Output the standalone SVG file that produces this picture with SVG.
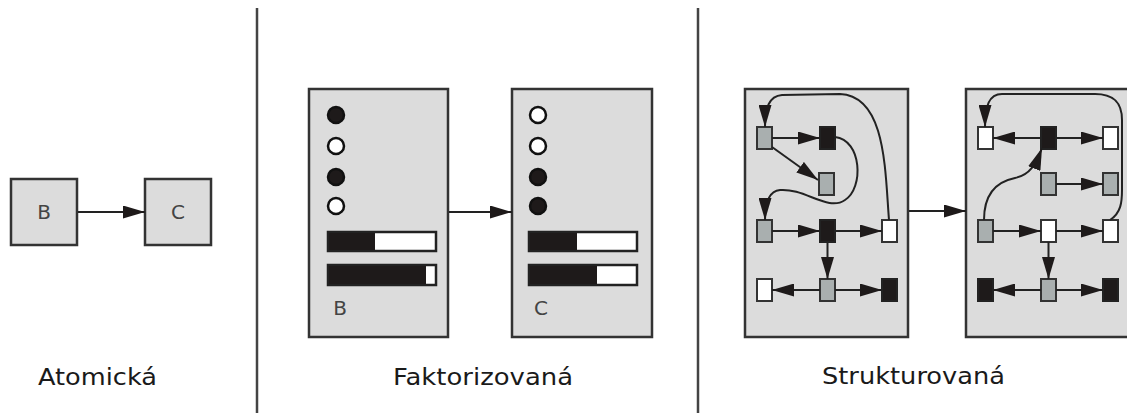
<svg xmlns="http://www.w3.org/2000/svg" width="1127" height="413" viewBox="0 0 1127 413">
<style>
.box{fill:#dcdcdc;stroke:#333;stroke-width:2.5}
.lbl{font-family:"DejaVu Sans",sans-serif;font-size:20px;fill:#444;text-anchor:middle}
.cap{font-family:"DejaVu Sans",sans-serif;font-size:23px;fill:#1a1a1a}
.div{stroke:#444;stroke-width:2.5}
.ln{stroke:#222;stroke-width:2;fill:none;marker-end:url(#ah)}
.g{fill:#a9afaf;stroke:#333;stroke-width:2}
.w{fill:#fff;stroke:#333;stroke-width:2}
.k{fill:#1e1a1a;stroke:#222;stroke-width:2}
.dotk{fill:#1e1a1a;stroke:#111;stroke-width:2.5}
.dotw{fill:#fff;stroke:#111;stroke-width:2.5}
.bar{fill:#fff;stroke:#222;stroke-width:2.5}
.barf{fill:#1e1a1a}
</style>
<defs>
<marker id="ah" markerUnits="userSpaceOnUse" markerWidth="22" markerHeight="13" refX="22" refY="6.5" orient="auto">
<path d="M0,0 L22,6.5 L0,13 z" fill="#1e1a1a"/>
</marker>
</defs>
<rect width="1127" height="413" fill="#fff"/>
<line class="div" x1="257" y1="8" x2="257" y2="413"/>
<line class="div" x1="698" y1="8" x2="698" y2="413"/>

<g id="atomic-B"><rect class="box" x="11" y="179" width="66" height="66"/><text class="lbl" x="44" y="219">B</text></g>
<g id="atomic-C"><rect class="box" x="145" y="179" width="66" height="66"/><text class="lbl" x="178" y="219">C</text></g>

<g id="factored-B">
<rect class="box" x="309" y="89" width="139" height="248"/>
<circle class="dotk" cx="336" cy="115" r="8"/>
<circle class="dotw" cx="336" cy="146" r="8"/>
<circle class="dotk" cx="336" cy="177" r="8"/>
<circle class="dotw" cx="336" cy="206" r="8"/>
<rect class="bar" x="328" y="232" width="108" height="19"/><rect class="barf" x="329" y="233" width="46" height="17"/>
<rect class="bar" x="328" y="265" width="108" height="20"/><rect class="barf" x="329" y="266" width="97" height="18"/>
<text class="lbl" x="340" y="315">B</text>
</g>
<g id="factored-C">
<rect class="box" x="512" y="89" width="140" height="248"/>
<circle class="dotw" cx="538" cy="115" r="8"/>
<circle class="dotw" cx="538" cy="146" r="8"/>
<circle class="dotk" cx="538" cy="177" r="8"/>
<circle class="dotk" cx="538" cy="206" r="8"/>
<rect class="bar" x="529" y="232" width="108" height="19"/><rect class="barf" x="530" y="233" width="47" height="17"/>
<rect class="bar" x="529" y="265" width="108" height="20"/><rect class="barf" x="530" y="266" width="67" height="18"/>
<text class="lbl" x="541" y="315">C</text>
</g>

<g id="structured-B">
<rect class="box" x="745" y="89" width="163" height="248"/>
<rect class="g" x="757" y="127" width="15" height="22"/>
<rect class="k" x="820" y="127" width="15" height="22"/>
<rect class="g" x="819" y="173" width="15" height="22"/>
<rect class="g" x="757" y="220" width="15" height="22"/>
<rect class="k" x="820" y="220" width="15" height="22"/>
<rect class="w" x="882" y="220" width="15" height="22"/>
<rect class="w" x="757" y="279" width="15" height="22"/>
<rect class="g" x="820" y="279" width="15" height="22"/>
<rect class="k" x="882" y="279" width="15" height="22"/>
</g>
<g id="structured-C">
<rect class="box" x="966" y="89" width="163" height="248"/>
<rect class="w" x="978" y="127" width="15" height="22"/>
<rect class="k" x="1041" y="127" width="15" height="22"/>
<rect class="w" x="1103" y="127" width="15" height="22"/>
<rect class="g" x="1041" y="173" width="15" height="22"/>
<rect class="g" x="1103" y="173" width="15" height="22"/>
<rect class="g" x="978" y="220" width="15" height="22"/>
<rect class="w" x="1041" y="220" width="15" height="22"/>
<rect class="w" x="1103" y="220" width="15" height="22"/>
<rect class="k" x="978" y="279" width="15" height="22"/>
<rect class="g" x="1041" y="279" width="15" height="22"/>
<rect class="k" x="1103" y="279" width="15" height="22"/>
</g>

<g id="connectors">
<line class="ln" x1="78" y1="212" x2="145" y2="212"/>
<line class="ln" x1="449" y1="212" x2="512" y2="212"/>
<line class="ln" x1="909" y1="211" x2="966" y2="211"/>
<line class="ln" x1="772" y1="138" x2="820" y2="138"/>
<line class="ln" x1="772" y1="147" x2="818" y2="180"/>
<path class="ln" d="M835,137 C862,140 864,188 845,200 C828,212 805,188 780,190 C769,191 765,202 765,220"/>
<path class="ln" d="M889,220 C885,170 886,96 840,94 L782,95 C769,96 765,108 765,127"/>
<line class="ln" x1="772" y1="231" x2="820" y2="231"/>
<line class="ln" x1="835" y1="231" x2="882" y2="231"/>
<line class="ln" x1="827.5" y1="242" x2="827.5" y2="279"/>
<line class="ln" x1="820" y1="290" x2="772" y2="290"/>
<line class="ln" x1="835" y1="290" x2="882" y2="290"/>
<line class="ln" x1="1041" y1="138" x2="993" y2="138"/>
<line class="ln" x1="1056" y1="138" x2="1103" y2="138"/>
<line class="ln" x1="1056" y1="184" x2="1103" y2="184"/>
<path class="ln" d="M984,220 C984,195 995,182 1015,178 C1030,175 1036,164 1042,148"/>
<path class="ln" d="M1110,220 C1121,213 1122,202 1122,190 L1122,120 C1122,101 1112,94 1095,94 L1002,94 C989,94 985,106 985,127"/>
<line class="ln" x1="993" y1="231" x2="1041" y2="231"/>
<line class="ln" x1="1056" y1="231" x2="1103" y2="231"/>
<line class="ln" x1="1048.5" y1="242" x2="1048.5" y2="279"/>
<line class="ln" x1="1041" y1="290" x2="993" y2="290"/>
<line class="ln" x1="1056" y1="290" x2="1103" y2="290"/>
</g>

<text class="cap" x="38" y="385" textLength="119" lengthAdjust="spacingAndGlyphs">Atomická</text>
<text class="cap" x="393" y="385" textLength="180" lengthAdjust="spacingAndGlyphs">Faktorizovaná</text>
<text class="cap" x="822" y="384" textLength="183" lengthAdjust="spacingAndGlyphs">Strukturovaná</text>
</svg>
